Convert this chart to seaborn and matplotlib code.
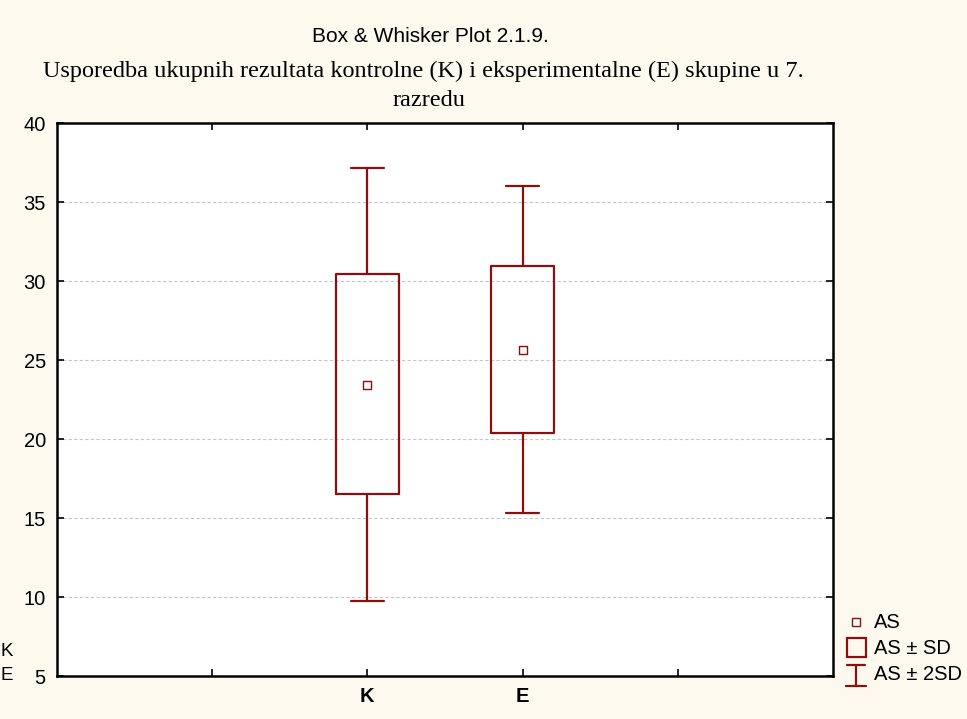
import matplotlib
matplotlib.use('Agg')
import matplotlib.pyplot as plt
from matplotlib.lines import Line2D
from matplotlib.patches import Rectangle
import seaborn as sns

# ─── DATA ────────────────────────────────────────────────────────────────────
groups      = ['K', 'E']
positions   = [2, 3]
means       = [23.45, 25.63]
sd_low      = [16.50, 20.38]
sd_high     = [30.45, 30.95]
sd2_low     = [9.75, 15.32]
sd2_high    = [37.15, 36.02]
x_ticks     = [1, 2, 3, 4]
x_labels    = ['', 'K', 'E', '']
y_ticks     = [5, 10, 15, 20, 25, 30, 35, 40]

# ─── STYLE ───────────────────────────────────────────────────────────────────
RED  = '#8B0F0F'
BG   = '#FDF9EF'
FS   = 14.5
sns.set_style('white')
plt.rcParams['font.family'] = ['Liberation Sans', 'DejaVu Sans']
plt.rcParams['text.color'] = 'black'
plt.rcParams['xtick.color'] = 'black'
plt.rcParams['ytick.color'] = 'black'

fig = plt.figure(figsize=(9.67, 7.19), dpi=100, facecolor=BG)
ax = fig.add_axes([0.0589, 0.0598, 0.8025, 0.7691])
ax.set_facecolor('white')

stats = []
for g, m, lo, hi, wlo, whi in zip(groups, means, sd_low, sd_high, sd2_low, sd2_high):
    stats.append({'label': g, 'med': m, 'q1': lo, 'q3': hi,
                  'whislo': wlo, 'whishi': whi, 'fliers': []})

ax.bxp(stats, positions=positions, widths=0.406, showfliers=False,
       boxprops=dict(color=RED, lw=1.6),
       whiskerprops=dict(color=RED, lw=1.6),
       capprops=dict(color=RED, lw=1.6),
       medianprops=dict(linestyle='none'),
       capwidths=0.21, manage_ticks=False, zorder=3)

sns.scatterplot(x=positions, y=means, marker='s', s=32, facecolor='white',
                edgecolor=RED, linewidth=1.0, ax=ax, zorder=4)

ax.set_xlim(0, 5)
ax.set_ylim(5, 40)
ax.set_xticks(x_ticks)
ax.set_xticklabels(x_labels, fontweight='bold', fontsize=FS)
ax.set_yticks(y_ticks)
ax.tick_params(axis='y', labelsize=FS)
ax.tick_params(direction='in', length=5, width=1.2, top=True, right=True,
               left=True, bottom=True, pad=8, color='black')
ax.yaxis.grid(True, linestyle=(0, (3, 2)), color='#c6c6c6', lw=0.8)
ax.set_axisbelow(True)
for sp in ax.spines.values():
    sp.set_color('black')
    sp.set_linewidth(1.8)

# titles
fig.text(0.445, 1 - 37 / 719, 'Box & Whisker Plot 2.1.9.', ha='center', va='center',
         fontsize=15)
fig.text(0.438, 1 - 71 / 719,
         'Usporedba ukupnih rezultata kontrolne (K) i eksperimentalne (E) skupine u 7.',
         ha='center', va='center', fontsize=17.5, family='Liberation Serif')
fig.text(0.444, 1 - 100 / 719, 'razredu', ha='center', va='center', fontsize=17.5,
         family='Liberation Serif')

# variable names at the left edge
fig.text(0.001, 1 - 651 / 719, 'K', ha='left', va='center', fontsize=FS - 1)
fig.text(0.001, 1 - 676 / 719, 'E', ha='left', va='center', fontsize=FS - 1)

# legend drawn by hand
W, H = 967, 719
def fx(px): return px / W
def fy(py): return 1 - py / H

fig.add_artist(Line2D([fx(856)], [fy(622)], marker='s', markersize=6,
                      markerfacecolor='white', markeredgecolor=RED,
                      markeredgewidth=1.0, transform=fig.transFigure))
fig.add_artist(Rectangle((fx(847), fy(657)), fx(19), 19 / H, fill=False,
                         edgecolor=RED, lw=1.6, transform=fig.transFigure))
fig.add_artist(Line2D([fx(856), fx(856)], [fy(665), fy(686)], color=RED,
                      lw=1.6, transform=fig.transFigure))
fig.add_artist(Line2D([fx(847), fx(865)], [fy(665), fy(665)], color=RED,
                      lw=1.6, transform=fig.transFigure))
fig.add_artist(Line2D([fx(846), fx(866)], [fy(686), fy(686)], color=RED,
                      lw=1.6, transform=fig.transFigure))
for label, py in [('AS', 622), ('AS ± SD', 648), ('AS ± 2SD', 675)]:
    fig.text(fx(874), fy(py), label, ha='left', va='center', fontsize=FS)

fig.savefig('out.png', dpi=100, facecolor=BG)
